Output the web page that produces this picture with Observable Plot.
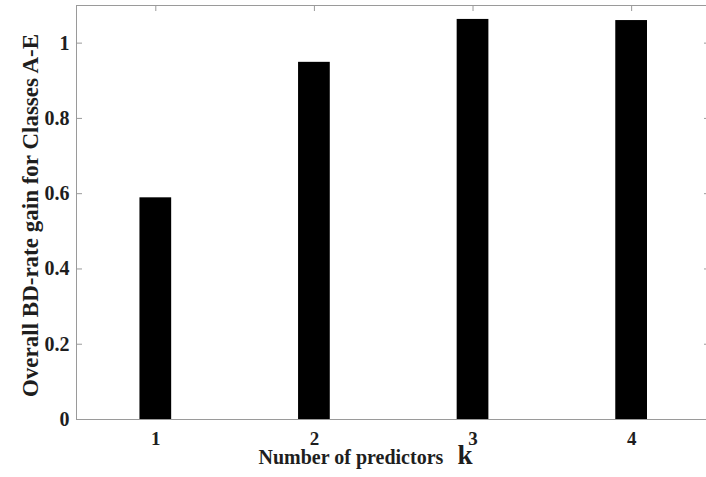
<!DOCTYPE html>
<html><head><meta charset="utf-8">
<script src="https://cdn.jsdelivr.net/npm/d3@7"></script>
<script src="https://cdn.jsdelivr.net/npm/@observablehq/plot@0.6"></script>
<style>body{margin:0;background:#fff} svg{display:block}</style>
</head><body><div id="chart"></div>
<script>
const predictors = [1, 2, 3, 4];
const gains = [0.589, 0.949, 1.063, 1.060];
const yTicks = [0, 0.2, 0.4, 0.6, 0.8, 1];
const yLabel = "Overall BD-rate gain for Classes A-E";
const xLabel = "Number of predictors";
const xLabelSymbol = "k";

const data = predictors.map((k, i) => ({k, gain: gains[i]}));
const halfBar = 0.1;
const axisColor = "#9a9a9a";
const textColor = "#1e1e1e";
const font = "'Liberation Serif','Times New Roman',serif";
const noText = () => "";
const fmt = d3.format("~g");

const chart = Plot.plot({
  width: 706, height: 477,
  marginLeft: 76, marginRight: 0, marginTop: 5, marginBottom: 58,
  style: {fontFamily: font, fontWeight: "bold", background: "#fff"},
  x: {type: "linear", domain: [0.5, 4.472]},
  y: {domain: [0, 1.1]},
  marks: [
    Plot.ruleX([0.5], {stroke: axisColor}),
    Plot.ruleY([0], {stroke: axisColor}),
    Plot.ruleY([1.1], {stroke: axisColor}),
    Plot.axisY(yTicks, {anchor: "left", tickSize: -6, stroke: axisColor, tickFormat: noText, label: null}),
    Plot.axisY(yTicks, {anchor: "right", tickSize: -3, stroke: axisColor, tickFormat: noText, label: null}),
    Plot.axisX(predictors, {anchor: "bottom", tickSize: -6, stroke: axisColor, tickFormat: noText, label: null}),
    Plot.axisX(predictors, {anchor: "top", tickSize: -5, stroke: axisColor, tickFormat: noText, label: null}),
    Plot.axisY(yTicks, {anchor: "left", tickSize: 0, tickPadding: 7, fontSize: 20, fill: textColor, tickFormat: fmt, label: null}),
    Plot.axisX(predictors, {anchor: "bottom", tickSize: 0, tickPadding: 12, fontSize: 19, fill: textColor, tickFormat: fmt, label: null}),
    Plot.rectY(data, {x1: d => d.k - halfBar, x2: d => d.k + halfBar, y: "gain", fill: "black"}),
    Plot.text([yLabel], {frameAnchor: "left", textAnchor: "middle", lineAnchor: "middle", rotate: -90, dx: -46, dy: 3, fontSize: 23, fill: textColor}),
    Plot.text([xLabel], {frameAnchor: "bottom-left", textAnchor: "start", lineAnchor: "middle", dx: 182, dy: 38, fontSize: 20, fill: textColor}),
    Plot.text([xLabelSymbol], {frameAnchor: "bottom-left", textAnchor: "start", lineAnchor: "middle", dx: 381, dy: 36, fontSize: 27, fill: textColor})
  ]
});
document.getElementById("chart").append(chart);
</script>
</body></html>
